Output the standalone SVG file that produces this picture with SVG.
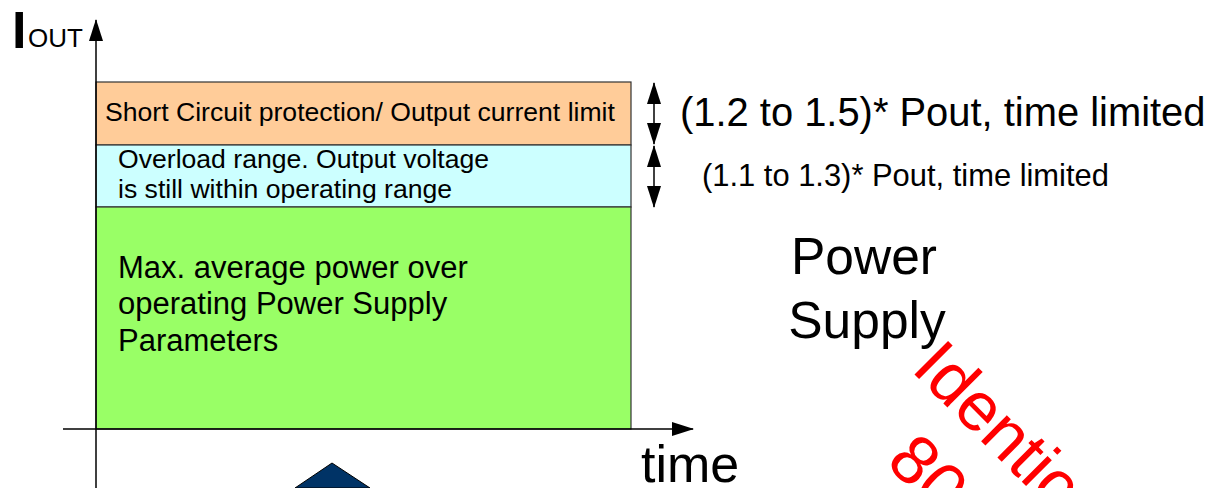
<svg xmlns="http://www.w3.org/2000/svg" width="1223" height="488" viewBox="0 0 1223 488">
<style>
text{font-family:"Liberation Sans",Arial,sans-serif;fill:#000}
.box{stroke:#333;stroke-width:1.2}
.ax{stroke:#000;stroke-width:1.5;fill:none}
.dim{stroke:#000;stroke-width:1.5;fill:none}
.red{fill:#FF0000}
</style>
<defs>
<marker id="ah" viewBox="0 0 22 14" refX="21" refY="7" markerWidth="22" markerHeight="14" markerUnits="userSpaceOnUse" orient="auto-start-reverse">
<path d="M0,0 L22,7 L0,14 Z" fill="#000"/>
</marker>
</defs>
<rect width="1223" height="488" fill="#fff"/>
<g id="short-circuit">
<rect class="box" x="96" y="82" width="535" height="63" fill="#FFCC99"/>
<text x="105" y="121" font-size="26.6">Short Circuit protection/ Output current limit</text>
</g>
<g id="overload">
<rect class="box" x="96" y="145" width="535" height="62" fill="#CCFFFF"/>
<text x="118" y="168" font-size="26.6">Overload range. Output voltage</text>
<text x="118" y="198" font-size="26.6">is still within operating range</text>
</g>
<g id="max-power">
<rect class="box" x="96" y="207" width="535" height="222" fill="#99FF66"/>
<text x="118" y="278" font-size="31">Max. average power over</text>
<text x="118" y="314" font-size="31">operating Power Supply</text>
<text x="118" y="351" font-size="31">Parameters</text>
</g>
<g id="connectors">
<line class="ax" x1="96" y1="488" x2="96" y2="20" marker-end="url(#ah)"/>
<line class="ax" x1="63" y1="429" x2="693" y2="429" marker-end="url(#ah)"/>
<line class="dim" x1="654" y1="83" x2="654" y2="144" marker-start="url(#ah)" marker-end="url(#ah)"/>
<line class="dim" x1="654" y1="146" x2="654" y2="207" marker-start="url(#ah)" marker-end="url(#ah)"/>
</g>
<g id="axis-labels">
<text x="12" y="48" font-size="52" font-weight="bold">I</text>
<text x="28" y="47" font-size="26">OUT</text>
<text x="641" y="482" font-size="52">time</text>
</g>
<g id="limit-labels">
<text x="680" y="126" font-size="39.9">(1.2 to 1.5)* Pout, time limited</text>
<text x="702" y="186" font-size="30.9">(1.1 to 1.3)* Pout, time limited</text>
</g>
<g id="power-supply">
<text x="864" y="274" font-size="51.5" text-anchor="middle">Power</text>
<text x="867" y="338" font-size="51.5" text-anchor="middle">Supply</text>
</g>
<g id="identical">
<g transform="translate(910,370) rotate(45)">
<text class="red" x="0" y="0" font-size="69">Identical</text>
<text class="red" x="48" y="84" font-size="69">80</text>
</g>
</g>
<g id="triangle">
<polygon points="332,463 295,488 370,488" fill="#003366" stroke="#000" stroke-width="1"/>
</g>
</svg>
